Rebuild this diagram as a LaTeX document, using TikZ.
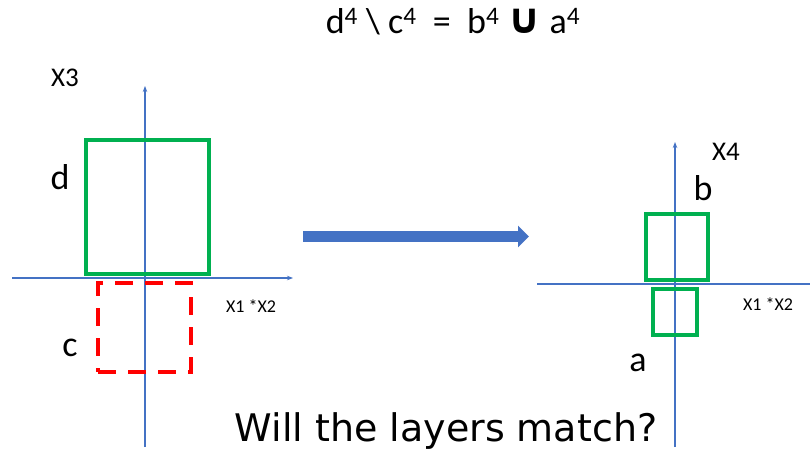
\documentclass[tikz,border=0pt]{standalone}
\usepackage{fontspec}
\setmainfont{Carlito}
\newfontfamily\dejavu{DejaVu Sans}
\usetikzlibrary{arrows.meta,positioning}
\definecolor{ejeazul}{RGB}{68,114,196}
\definecolor{verdecaja}{RGB}{0,176,80}
\definecolor{rojocaja}{RGB}{255,0,0}
\definecolor{flechaazul}{RGB}{68,114,196}

\begin{document}
\begin{tikzpicture}[x=1pt,y=-1pt,
eje/.style={draw=ejeazul,line width=1.2pt},
ejeflecha/.style={eje,-{Stealth[length=6pt,width=4.5pt]}},
cajaverde/.style={draw=verdecaja,line width=4pt,inner sep=0pt},
cajaroja/.style={draw=rojocaja,line width=4pt,dash pattern=on 18pt off 12pt,inner sep=0pt},
etq/.style={font=\fontsize{36}{40}\selectfont,inner sep=0pt},
ejetq/.style={font=\fontsize{27}{30}\selectfont,inner sep=0pt},
ejechico/.style={font=\fontsize{18}{20}\selectfont,inner sep=0pt},
flecha/.style={draw=flechaazul,line width=11pt,-{Triangle[length=11pt,width=21pt]}}
]
\useasboundingbox (0,0) rectangle (810,454);

% titulo
\node[etq] (titulo) at (453,22) {d\textsuperscript{4} \textbackslash{} c\textsuperscript{4}\ \ =\ \ b\textsuperscript{4} {\dejavu\bfseries\fontsize{42}{44}\selectfont ∪} a\textsuperscript{4}};

% grafico izquierdo
\coordinate (izqabajo) at (145,447);
\coordinate (izqarriba) at (145,86);
\coordinate (izqini) at (12,278);
\coordinate (izqfin) at (293,278);
\draw[ejeflecha] (izqabajo) -- (izqarriba);
\draw[ejeflecha] (izqini) -- (izqfin);
\node[cajaverde,minimum width=123pt,minimum height=134pt] (cajad) at (147.5,207) {};
\node[cajaroja,minimum width=93pt,minimum height=89pt] (cajac) at (144.5,327.5) {};
\node[ejetq] (x3) at (65,78) {X3};
\node[etq] (etqd) at (60,177) {d};
\node[etq] (etqc) at (70,348) {c};
\node[ejechico] (x12izq) at (251,306) {X1 *X2};

% flecha central
\coordinate (flini) at (303,236.5);
\coordinate (flfin) at (529,236.5);
\draw[flecha] (flini) -- (flfin);

% grafico derecho
\coordinate (derabajo) at (675,447);
\coordinate (derarriba) at (675,142);
\coordinate (derini) at (537,284);
\coordinate (derfin) at (810,284);
\draw[ejeflecha] (derabajo) -- (derarriba);
\draw[eje] (derini) -- (derfin);
\node[cajaverde,minimum width=62pt,minimum height=66pt] (cajab) at (677,247) {};
\node[cajaverde,minimum width=44pt,minimum height=46pt] (cajaa) at (675,312) {};
\node[ejetq] (x4) at (726,152) {X4};
\node[etq] (etqb) at (703,188) {b};
\node[etq] (etqa) at (638,363) {a};
\node[ejechico] (x12der) at (768,304) {X1 *X2};

% pregunta
\node[font=\dejavu\fontsize{38}{42}\selectfont,inner sep=0pt] (pregunta) at (446,431) {Will the layers match?};
\end{tikzpicture}
\end{document}
